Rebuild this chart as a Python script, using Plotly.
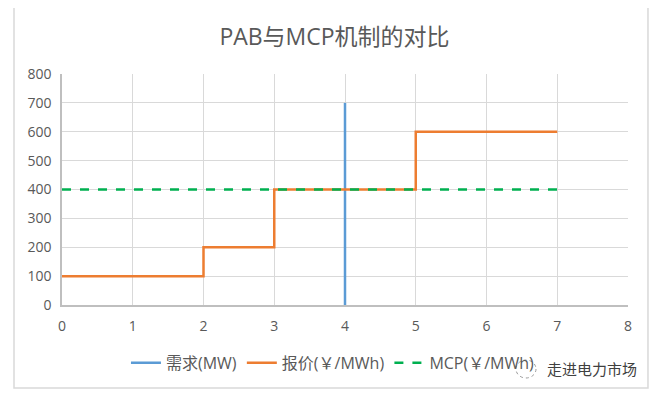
import plotly.graph_objects as go

# Data
demand_x = [4, 4]
demand_y = [0, 700]
bid_x = [0, 2, 2, 3, 3, 5, 5, 7]
bid_y = [100, 100, 200, 200, 400, 400, 600, 600]
mcp_x = [0, 7]
mcp_y = [400, 400]
x_ticks = [0, 1, 2, 3, 4, 5, 6, 7, 8]
y_ticks = [0, 100, 200, 300, 400, 500, 600, 700, 800]

font_family = "Open Sans, Noto Sans CJK SC, sans-serif"
txt = "#595959"

fig = go.Figure()
fig.add_trace(go.Scatter(x=demand_x, y=demand_y, mode="lines", name="需求(MW)",
                         line=dict(color="#5b9bd5", width=2.5)))
fig.add_trace(go.Scatter(x=bid_x, y=bid_y, mode="lines", name="报价(￥/MWh)",
                         line=dict(color="#ed7d31", width=2.5)))
fig.add_trace(go.Scatter(x=mcp_x, y=mcp_y, mode="lines", name="MCP(￥/MWh)",
                         line=dict(color="#00b050", width=2.5, dash="dash")))

# page body adds an 8px margin, so the figure is 8px smaller and offsets shifted
fig.update_layout(
    width=653, height=389,
    margin=dict(l=54, r=33, t=66, b=92),
    paper_bgcolor="white", plot_bgcolor="white",
    font=dict(family=font_family, color=txt, size=12),
    title=dict(text="PAB与MCP机制的对比", x=0.5, xanchor="center", y=0.925, yanchor="middle",
               font=dict(size=23, color=txt, family=font_family)),
    xaxis=dict(range=[0, 8], tickvals=x_ticks, showgrid=True, gridcolor="#d9d9d9", gridwidth=1,
               showline=True, linecolor="#bfbfbf", linewidth=1.5, zeroline=False,
               ticks="", ticklen=0, ticklabelstandoff=7, tickfont=dict(size=14, color=txt)),
    yaxis=dict(range=[0, 800], tickvals=y_ticks, showgrid=True, gridcolor="#d9d9d9", gridwidth=1,
               showline=True, linecolor="#bfbfbf", linewidth=1.5, zeroline=False,
               ticks="", ticklen=0, ticklabelstandoff=6, tickfont=dict(size=14, color=txt)),
    legend=dict(orientation="h", x=0.113, xanchor="left", y=-0.25, yanchor="middle",
                font=dict(size=16, color=txt), itemwidth=30, bgcolor="rgba(0,0,0,0)"),
    showlegend=True,
)

# outer chart border
fig.add_shape(type="rect", xref="paper", yref="paper",
              x0=-0.0848, x1=1.0353, y0=-0.359, y1=1.29,
              line=dict(color="#d9d9d9", width=1.5), fillcolor="rgba(0,0,0,0)", layer="below")

# watermark logo (simple dotted circle) and text
fig.add_shape(type="circle", xref="paper", yref="paper",
              x0=(516 - 62) / 566, x1=(536 - 62) / 566,
              y0=(305 - 378) / 231, y1=(305 - 360) / 231,
              line=dict(color="#9a9a9a", width=1, dash="dot"),
              fillcolor="rgba(255,255,255,0.85)")
fig.add_annotation(text="走进电力市场", xref="paper", yref="paper", x=0.936, y=-0.277,
                   xanchor="center", yanchor="middle", showarrow=False,
                   font=dict(size=15, color="#404040", family=font_family),
                   bgcolor="rgba(255,255,255,0.85)")

fig.write_html("out.html")
